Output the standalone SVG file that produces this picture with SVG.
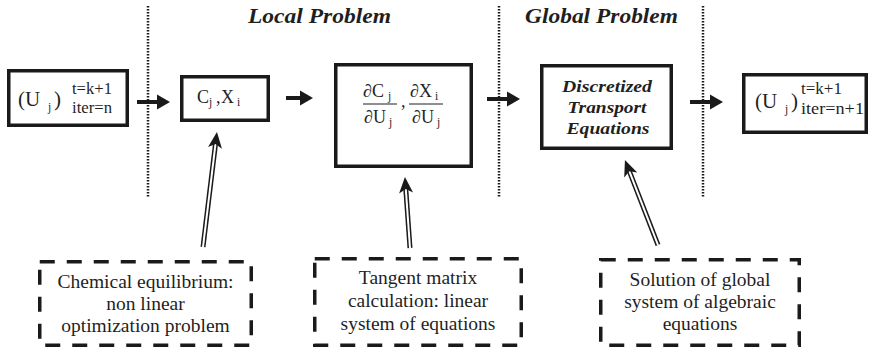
<svg xmlns="http://www.w3.org/2000/svg" width="879" height="349" viewBox="0 0 879 349">
  <style>
    .box { fill: #fff; stroke: #1a1a1a; stroke-width: 3.5; }
    .dbox { fill: none; stroke: #1a1a1a; stroke-width: 3.5; stroke-dasharray: 15 12; }
    .sep { stroke: #1a1a1a; stroke-width: 2.5; stroke-dasharray: 1.6 1.4; fill: none; }
    .flow { stroke: #1a1a1a; stroke-width: 4; fill: none; marker-end: url(#head); }
    .dbl-out { stroke: #1a1a1a; stroke-width: 5; fill: none; }
    .dbl-in { stroke: #fff; stroke-width: 2; fill: none; marker-end: url(#barb); }
    text { font-family: "Liberation Serif", "Times New Roman", serif; fill: #1f1f1f; }
    .hdr { font-size: 22px; font-weight: bold; font-style: italic; }
    .note { font-size: 19.5px; text-anchor: middle; }
    .bi { font-size: 17px; font-weight: bold; font-style: italic; text-anchor: middle; }
    .big { font-size: 21px; }
    .mid { font-size: 18px; }
    .idx { font-size: 11.5px; }
    .lim { font-size: 16px; }
  </style>
  <defs>
    <marker id="head" viewBox="-14 -8 15 16" markerUnits="userSpaceOnUse" markerWidth="15" markerHeight="16" refX="-12" refY="0" orient="auto">
      <path d="M0,0 L-13,-7.5 L-13,7.5 Z" fill="#1a1a1a"/>
    </marker>
    <marker id="barb" viewBox="-17 -8 18 16" markerUnits="userSpaceOnUse" markerWidth="18" markerHeight="16" refX="-12" refY="0" orient="auto">
      <path d="M0,0 L-16,-7 L-12,0 L-16,7 Z" fill="#1a1a1a"/>
    </marker>
  </defs>

  <!-- section separators and headings -->
  <g id="separators">
    <line class="sep" x1="148" y1="6" x2="148" y2="197"/>
    <line class="sep" x1="499" y1="6" x2="499" y2="197"/>
    <line class="sep" x1="703" y1="6" x2="703" y2="197"/>
  </g>
  <g id="headings">
    <text class="hdr" x="248" y="23" textLength="143" lengthAdjust="spacingAndGlyphs">Local Problem</text>
    <text class="hdr" x="525" y="23" textLength="153" lengthAdjust="spacingAndGlyphs">Global Problem</text>
  </g>

  <!-- main chain -->
  <g id="u-start">
    <rect class="box" x="8.75" y="70.75" width="118.5" height="54.5"/>
    <text class="big" x="18" y="106">(U</text>
    <text class="idx" x="48" y="111">j</text>
    <text class="big" x="54" y="106">)</text>
    <text class="lim" x="72" y="94" textLength="40" lengthAdjust="spacingAndGlyphs">t=k+1</text>
    <text class="lim" x="72" y="113" textLength="40" lengthAdjust="spacingAndGlyphs">iter=n</text>
  </g>

  <g id="cx">
    <rect class="box" x="181.75" y="76.75" width="86.5" height="43.5"/>
    <text class="mid" x="197" y="103">C</text>
    <text class="idx" x="209" y="106">j</text>
    <text class="mid" x="216" y="103">,</text>
    <text class="mid" x="221" y="103">X</text>
    <text class="idx" x="237" y="106">i</text>
  </g>

  <g id="derivatives">
    <rect class="box" x="335.75" y="64.75" width="135.5" height="101.5"/>
    <text class="mid" x="363" y="97">∂C</text>
    <text class="idx" x="388" y="100">j</text>
    <line x1="363" y1="104" x2="397" y2="104" stroke="#1f1f1f" stroke-width="1"/>
    <text class="mid" x="364" y="123">∂U</text>
    <text class="idx" x="389" y="126">j</text>
    <text class="mid" x="401" y="107">,</text>
    <text class="mid" x="410" y="97">∂X</text>
    <text class="idx" x="435" y="100">i</text>
    <line x1="409" y1="104" x2="443" y2="104" stroke="#1f1f1f" stroke-width="1"/>
    <text class="mid" x="412" y="123">∂U</text>
    <text class="idx" x="437" y="126">j</text>
  </g>

  <g id="transport">
    <rect class="box" x="541.75" y="65.75" width="129.5" height="82.5"/>
    <text class="bi" x="607" y="92" textLength="90" lengthAdjust="spacingAndGlyphs">Discretized</text>
    <text class="bi" x="607" y="113" textLength="79" lengthAdjust="spacingAndGlyphs">Transport</text>
    <text class="bi" x="608" y="134" textLength="83" lengthAdjust="spacingAndGlyphs">Equations</text>
  </g>

  <g id="u-next">
    <rect class="box" x="743.75" y="74.75" width="122.5" height="57.5"/>
    <text class="big" x="755" y="108">(U</text>
    <text class="idx" x="785" y="113">j</text>
    <text class="big" x="791" y="108">)</text>
    <text class="lim" x="801" y="94" textLength="41" lengthAdjust="spacingAndGlyphs">t=k+1</text>
    <text class="lim" x="801" y="114" textLength="63" lengthAdjust="spacingAndGlyphs">iter=n+1</text>
  </g>

  <!-- explanatory notes -->
  <g id="note-equilibrium">
    <rect class="dbox" x="39.75" y="261.75" width="211.5" height="83.5"/>
    <text class="note" x="145.5" y="288">Chemical equilibrium:</text>
    <text class="note" x="145.5" y="310">non linear</text>
    <text class="note" x="145.5" y="332">optimization problem</text>
  </g>
  <g id="note-tangent">
    <rect class="dbox" x="314.75" y="258.75" width="206.5" height="86.5"/>
    <text class="note" x="418" y="284">Tangent matrix</text>
    <text class="note" x="418" y="307">calculation: linear</text>
    <text class="note" x="418" y="330">system of equations</text>
  </g>
  <g id="note-global">
    <rect class="dbox" x="600.75" y="259.75" width="198.5" height="85.5"/>
    <text class="note" x="700" y="286">Solution of global</text>
    <text class="note" x="700" y="308">system of algebraic</text>
    <text class="note" x="700" y="330">equations</text>
  </g>

  <!-- connectors -->
  <g id="connectors">
    <line class="flow" x1="137" y1="102" x2="158" y2="102"/>
    <line class="flow" x1="286" y1="98" x2="301" y2="98"/>
    <line class="flow" x1="487" y1="99" x2="508" y2="99"/>
    <line class="flow" x1="690" y1="102" x2="711" y2="102"/>

    <path class="dbl-out" d="M203,247 L215.5,143.9"/>
    <path class="dbl-in" d="M203,247 L215.5,143.9"/>
    <path class="dbl-out" d="M410,248 L405.8,189"/>
    <path class="dbl-in" d="M410,248 L405.8,189"/>
    <path class="dbl-out" d="M658,245 L629.3,171.2"/>
    <path class="dbl-in" d="M658,245 L629.3,171.2"/>
  </g>
</svg>
